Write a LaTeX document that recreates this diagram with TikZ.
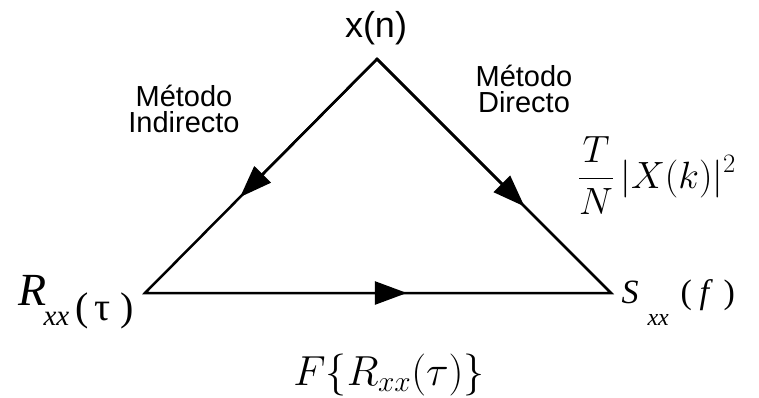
\RequirePackage{fix-cm}
\documentclass[tikz,border=0pt]{standalone}
\usepackage{fontspec}
\setmainfont{Liberation Sans}
\newfontfamily\tnr{Liberation Serif}
\usetikzlibrary{arrows.meta,calc}
\newcommand\putat[2]{\makebox[0pt][l]{\hspace{#1}#2}}
\begin{document}
\begin{tikzpicture}[x=1pt,y=-1pt,
  every node/.style={inner sep=0pt,outer sep=0pt},
  edge/.style={line width=2.5pt,line join=miter,miter limit=20},
  head/.style={line width=2.5pt,-{Triangle[length=32pt,width=23pt]}},
  lbl/.style={anchor=base},
  method/.style={anchor=base,align=center,font=\fontsize{29}{26}\selectfont}]
\useasboundingbox (0,0) rectangle (759,397);
\coordinate (A) at (377,59);
\coordinate (L) at (145,293);
\coordinate (R) at (611,293);
\draw[edge] (L) -- (A) -- (R) -- cycle;
\draw[head] (A) -- ($(A)!0.59!(L)$);
\draw[head] (A) -- ($(A)!0.63!(R)$);
\draw[head] (L) -- ($(L)!0.562!(R)$);
\node[lbl] (xn) at (376,37) {\fontsize{36}{36}\selectfont x(n)};
\node[method] (ind) at (184,132) {Método\\Indirecto};
\node[method] (dir) at (524,112) {Método\\Directo};
\node[anchor=base west] (rxx) at (18,305) {\tnr\itshape\fontsize{46}{46}\selectfont
  \putat{0pt}{R}%
  \putat{25pt}{\raisebox{-20pt}{\fontsize{29}{29}\selectfont xx}}%
  \putat{57pt}{\raisebox{-15pt}{\upshape\fontsize{40}{40}\selectfont (}}%
  \putat{76pt}{\raisebox{-15pt}{\upshape\fontsize{40}{40}\selectfont τ}}%
  \putat{102pt}{\raisebox{-15pt}{\upshape\fontsize{40}{40}\selectfont )}}%
  \hspace{115pt}};
\node[anchor=base west] (sxx) at (620,303) {\tnr\itshape\fontsize{34}{34}\selectfont
  \putat{1pt}{S}%
  \putat{27pt}{\raisebox{-22pt}{\fontsize{24}{24}\selectfont xx}}%
  \putat{60pt}{\upshape (}%
  \putat{79pt}{f}%
  \putat{103pt}{\upshape )}%
  \hspace{115pt}};
\node[anchor=base west] (psd) at (578,188) {\fontsize{38}{38}\selectfont$\displaystyle\frac{T}{N}\,|X(k)|^2$};
\node[lbl] (fr) at (389,385) {\fontsize{42}{42}\selectfont$F\{R_{xx}(\tau)\}$};
\end{tikzpicture}
\end{document}
